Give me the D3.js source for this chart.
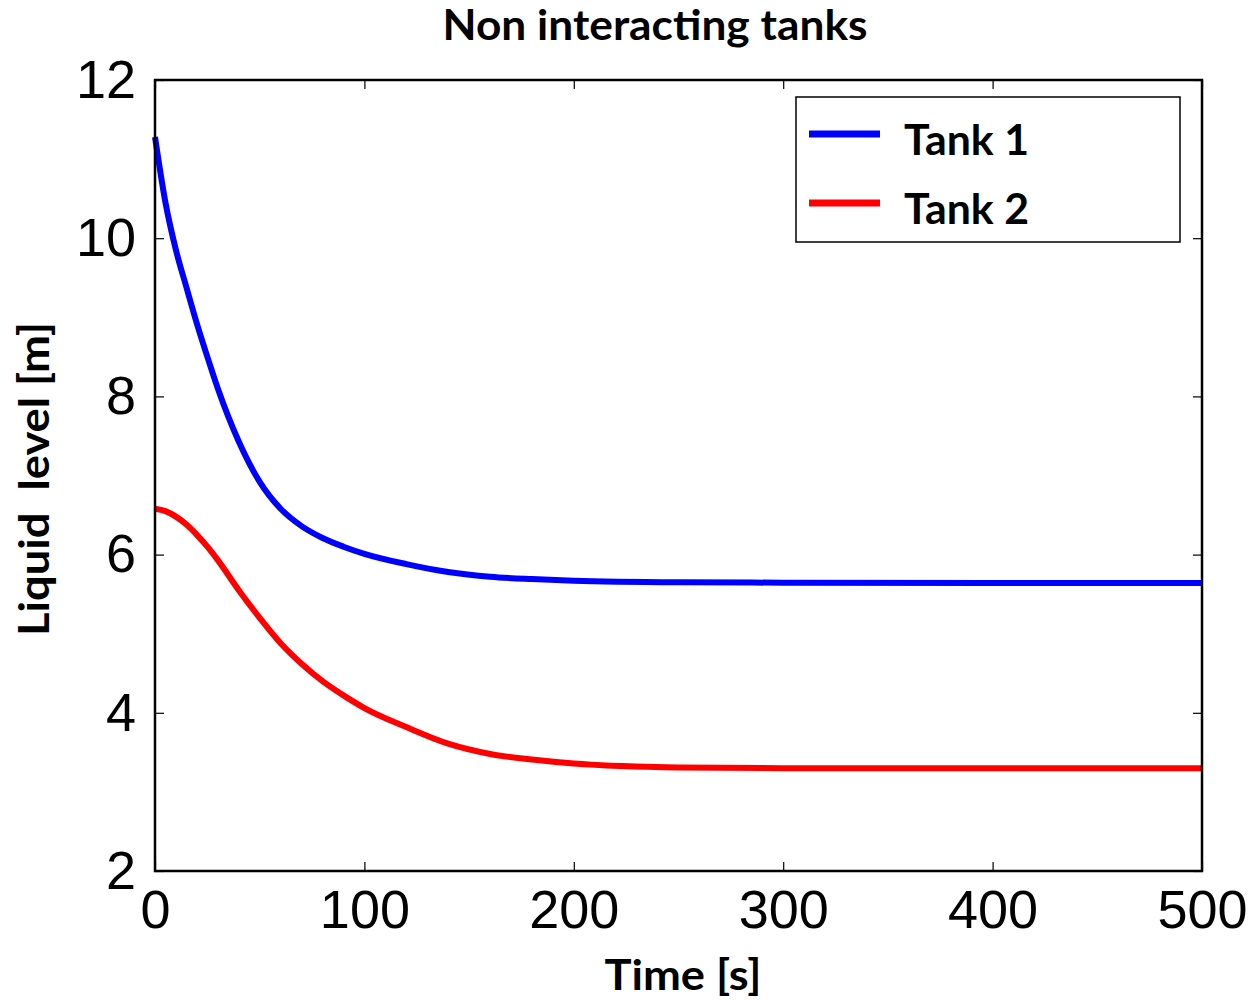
<!DOCTYPE html>
<html lang="en">
<head>
  <meta charset="UTF-8">
  <title>Non interacting tanks</title>
  <script src="https://d3js.org/d3.v7.min.js"></script>
  <style>
    body { margin: 0; background: #fff; }
    .bold { font-family: Lato, "Open Sans", sans-serif; font-weight: 700; }
    .tick text { font-family: "Liberation Sans", Arial, sans-serif; }
  </style>
</head>
<body>
<script>
// values
const time  = [0, 5, 10, 15, 20, 25, 30, 40, 50, 60, 70, 80, 90, 100, 120, 140, 160, 180, 200, 250, 300, 400, 500];
const tank1 = [11.28, 10.45, 9.85, 9.38, 8.92, 8.50, 8.10, 7.43, 6.92, 6.58, 6.36, 6.21, 6.10, 6.01, 5.88, 5.78, 5.72, 5.69, 5.67, 5.65, 5.645, 5.64, 5.64];
const tank2 = [6.58, 6.55, 6.48, 6.38, 6.25, 6.10, 5.93, 5.55, 5.20, 4.88, 4.62, 4.40, 4.22, 4.06, 3.82, 3.61, 3.48, 3.41, 3.36, 3.31, 3.30, 3.30, 3.30];
const seriesNames = ["Tank 1", "Tank 2"];
const seriesColors = ["#0000ff", "#ff0000"];
const xTicks = [0, 100, 200, 300, 400, 500];
const yTicks = [2, 4, 6, 8, 10, 12];

const width = 1254, height = 1000;
const margin = {top: 80, right: 52, bottom: 129, left: 155};
const iw = width - margin.left - margin.right;
const ih = height - margin.top - margin.bottom;

const svg = d3.select("body").append("svg")
    .attr("width", width)
    .attr("height", height);

const x = d3.scaleLinear().domain([0, 500]).range([0, iw]);
const y = d3.scaleLinear().domain([2, 12]).range([ih, 0]);

const g = svg.append("g").attr("transform", `translate(${margin.left},${margin.top})`);

// curves
const line = d3.line()
    .x((d, i) => x(time[i]))
    .y(d => y(d))
    .curve(d3.curveMonotoneX);

[tank1, tank2].forEach((s, k) => {
  g.append("path")
      .datum(s)
      .attr("fill", "none")
      .attr("stroke", seriesColors[k])
      .attr("stroke-width", 6)
      .attr("d", line);
});

// axes, ticks pointing inwards on all four sides
const fs = 54;
g.append("g")
    .attr("transform", `translate(0,${ih})`)
    .call(d3.axisBottom(x).tickValues(xTicks).tickSizeInner(-9).tickSizeOuter(0).tickPadding(19))
    .call(a => a.select(".domain").remove())
    .call(a => a.selectAll("text").attr("font-size", fs));

g.append("g")
    .call(d3.axisTop(x).tickValues(xTicks).tickSizeInner(-9).tickSizeOuter(0).tickFormat(""))
    .call(a => a.select(".domain").remove());

g.append("g")
    .call(d3.axisLeft(y).tickValues(yTicks).tickSizeInner(-9).tickSizeOuter(0).tickPadding(19))
    .call(a => a.select(".domain").remove())
    .call(a => a.selectAll("text").attr("font-size", fs));

g.append("g")
    .attr("transform", `translate(${iw},0)`)
    .call(d3.axisRight(y).tickValues(yTicks).tickSizeInner(-9).tickSizeOuter(0).tickFormat(""))
    .call(a => a.select(".domain").remove());

g.selectAll(".tick line").attr("stroke", "#000").attr("stroke-width", 1.2);

g.append("rect")
    .attr("width", iw)
    .attr("height", ih)
    .attr("fill", "none")
    .attr("stroke", "#000")
    .attr("stroke-width", 2.5);

// titles
svg.append("text")
    .attr("class", "bold")
    .attr("x", 655).attr("y", 40)
    .attr("text-anchor", "middle")
    .attr("font-size", 42)
    .attr("textLength", 425)
    .attr("lengthAdjust", "spacingAndGlyphs")
    .text("Non interacting tanks");

svg.append("text")
    .attr("class", "bold")
    .attr("x", 683).attr("y", 990)
    .attr("text-anchor", "middle")
    .attr("font-size", 42)
    .attr("textLength", 157)
    .attr("lengthAdjust", "spacingAndGlyphs")
    .text("Time [s]");

svg.append("text")
    .attr("class", "bold")
    .attr("transform", "translate(49,479) rotate(-90)")
    .attr("text-anchor", "middle")
    .attr("font-size", 42)
    .attr("textLength", 314)
    .attr("lengthAdjust", "spacingAndGlyphs")
    .attr("xml:space", "preserve")
    .style("white-space", "pre")
    .text("Liquid  level [m]");

// legend
const lg = svg.append("g").attr("transform", "translate(796,97)");
lg.append("rect")
    .attr("width", 384).attr("height", 145)
    .attr("fill", "#fff")
    .attr("stroke", "#000")
    .attr("stroke-width", 1.5);

seriesNames.forEach((name, k) => {
  const yy = 37 + k * 69;
  lg.append("line")
      .attr("x1", 13).attr("x2", 84)
      .attr("y1", yy).attr("y2", yy)
      .attr("stroke", seriesColors[k])
      .attr("stroke-width", 7);
  lg.append("text")
      .attr("class", "bold")
      .attr("x", 108).attr("y", yy + 21)
      .attr("font-size", 42)
      .attr("textLength", 125)
      .attr("lengthAdjust", "spacingAndGlyphs")
      .text(name);
});
</script>
</body>
</html>
